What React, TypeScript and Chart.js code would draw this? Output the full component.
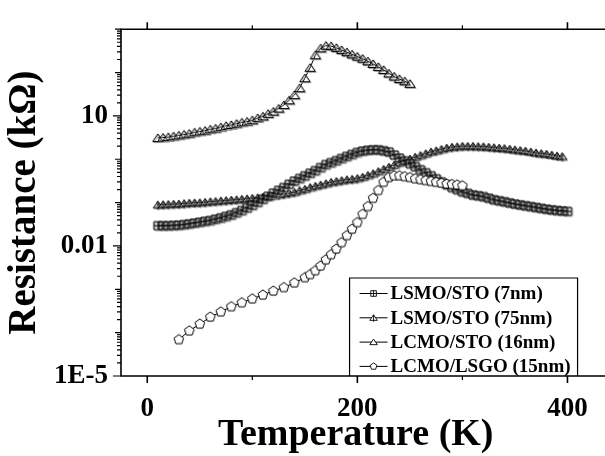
import { useEffect, useRef } from 'react';
import { Chart, registerables } from 'chart.js';

Chart.register(...registerables);

// ---------- data ----------
const T_GRID = [
  10, 15, 20, 25, 30, 35, 40, 45, 50, 55,
  60, 65, 70, 75, 80, 85, 90, 95, 100, 105,
  110, 115, 120, 125, 130, 135, 140, 145, 150, 155,
  160, 165, 170, 175, 180, 185, 190, 195, 200, 205,
  210, 215, 220, 225, 230, 235, 240, 245, 250, 255,
  260, 265, 270, 275, 280, 285, 290, 295, 300, 305,
  310, 315, 320, 325, 330, 335, 340, 345, 350, 355,
  360, 365, 370, 375, 380, 385, 390, 395, 400,
];

// LSMO/STO (7nm), T = 10..400 K
const LSMO7_R = [
  0.0295, 0.0295, 0.0295, 0.0299, 0.0302, 0.0313, 0.0324, 0.0339, 0.0355, 0.0372,
  0.0389, 0.0417, 0.0447, 0.0484, 0.0525, 0.0589, 0.0661, 0.0759, 0.0871, 0.102,
  0.120, 0.141, 0.166, 0.193, 0.224, 0.266, 0.316, 0.363, 0.417, 0.479,
  0.550, 0.646, 0.759, 0.841, 0.933, 1.05, 1.17, 1.30, 1.45, 1.55,
  1.62, 1.66, 1.66, 1.58, 1.48, 1.26, 1.07, 0.923, 0.794, 0.676,
  0.575, 0.490, 0.417, 0.355, 0.302, 0.260, 0.224, 0.200, 0.178, 0.164,
  0.151, 0.145, 0.138, 0.127, 0.117, 0.111, 0.105, 0.0989, 0.0933, 0.0891,
  0.0851, 0.0813, 0.0776, 0.0741, 0.0708, 0.0684, 0.0661, 0.0646, 0.0631,
];

// LSMO/STO (75nm), T = 10..395 K
const LSMO75_R = [
  0.0891, 0.0902, 0.0912, 0.0923, 0.0933, 0.0955, 0.0977, 0.0989, 0.100, 0.102,
  0.105, 0.107, 0.110, 0.112, 0.115, 0.117, 0.120, 0.123, 0.126, 0.130,
  0.135, 0.140, 0.145, 0.151, 0.158, 0.166, 0.174, 0.191, 0.204, 0.224,
  0.240, 0.257, 0.275, 0.295, 0.309, 0.324, 0.339, 0.347, 0.363, 0.389,
  0.427, 0.468, 0.525, 0.589, 0.661, 0.741, 0.832, 0.933, 1.02, 1.12,
  1.23, 1.35, 1.48, 1.58, 1.70, 1.82, 1.91, 1.95, 2.00, 2.00,
  2.00, 1.97, 1.95, 1.91, 1.86, 1.82, 1.78, 1.72, 1.66, 1.60,
  1.55, 1.48, 1.41, 1.36, 1.32, 1.26, 1.20, 1.16,
];

// LCMO/STO (16nm), T = 10..250 K
const LCMO16_R = [
  3.09, 3.16, 3.24, 3.39, 3.55, 3.72, 3.89, 4.17, 4.37, 4.57,
  4.90, 5.13, 5.50, 5.89, 6.17, 6.61, 7.08, 7.41, 7.94, 8.91,
  9.77, 11.2, 12.6, 14.8, 17.8, 22.9, 30.2, 43.7, 74.1, 129,
  251, 363, 417, 407, 372, 331, 295, 263, 234, 209,
  182, 158, 135, 115, 95.5, 81.3, 70.8, 63.1, 55.0,
];

// LCMO/LSGO (15nm)
const LSGO_T = [
  30, 40, 50, 60, 70, 80, 90, 100, 110, 120, 130, 140, 150,
  155, 160, 165, 170, 175, 180, 185, 190, 195, 200,
  205, 210, 215, 220, 225, 230, 235, 240, 245, 250,
  255, 260, 265, 270, 275, 280, 285, 290, 295, 300,
];
const LSGO_R = [
  6.92e-5, 1.10e-4, 1.58e-4, 2.29e-4, 3.02e-4, 3.98e-4, 4.90e-4, 6.03e-4, 7.41e-4, 9.12e-4, 1.10e-3, 1.41e-3, 1.86e-3,
  2.19e-3, 2.69e-3, 3.47e-3, 4.79e-3, 6.31e-3, 8.51e-3, 0.0120, 0.0174, 0.0245, 0.0347,
  0.0537, 0.0813, 0.126, 0.191, 0.295, 0.380, 0.417, 0.417, 0.398, 0.380,
  0.355, 0.339, 0.324, 0.309, 0.295, 0.282, 0.269, 0.263, 0.257, 0.245,
];

const SERIES_LABELS = ['LSMO/STO (7nm)', 'LSMO/STO (75nm)', 'LCMO/STO (16nm)', 'LCMO/LSGO (15nm)'];
const X_TICKS = [0, 200, 400];
const X_MINOR_TICKS = [100, 300];
const Y_TICKS = [1e-5, 0.01, 10];
const Y_TICK_LABELS = ['1E-5', '0.01', '10'];
const X_MIN = -25;
const X_MAX = 422;
const Y_MIN = 1e-5;
const Y_MAX = 1e3;
const X_TITLE = 'Temperature (K)';
const Y_TITLE = 'Resistance (kΩ)';

// ---------- styling ----------
const FONT = '"Liberation Serif", "Times New Roman", serif';
type Kind = 'sq' | 'triline' | 'tri' | 'pent';
const KINDS: Kind[] = ['sq', 'triline', 'tri', 'pent'];

function shapePath(ctx: CanvasRenderingContext2D, kind: Kind, cx: number, cy: number, s: number) {
  ctx.beginPath();
  if (kind === 'sq') {
    ctx.rect(cx - s, cy - s, 2 * s, 2 * s);
  } else if (kind === 'tri' || kind === 'triline') {
    ctx.moveTo(cx, cy - s);
    ctx.lineTo(cx + s * 1.25, cy + s * 0.85);
    ctx.lineTo(cx - s * 1.25, cy + s * 0.85);
    ctx.closePath();
  } else {
    const r = s * 1.1;
    for (let k = 0; k < 5; k++) {
      const a = -Math.PI / 2 + (k * 2 * Math.PI) / 5;
      const px = cx + r * Math.cos(a);
      const py = cy + r * Math.sin(a);
      if (k === 0) ctx.moveTo(px, py);
      else ctx.lineTo(px, py);
    }
    ctx.closePath();
  }
}

function drawMarker(ctx: CanvasRenderingContext2D, kind: Kind, cx: number, cy: number, s: number, color: string, fill: string | null, lw = 1) {
  shapePath(ctx, kind, cx, cy, s);
  if (fill) {
    ctx.fillStyle = fill;
    ctx.fill();
  }
  ctx.strokeStyle = color;
  ctx.lineWidth = lw;
  ctx.stroke();
  ctx.beginPath();
  if (kind === 'sq') {
    ctx.moveTo(cx - s, cy);
    ctx.lineTo(cx + s, cy);
    ctx.moveTo(cx, cy - s);
    ctx.lineTo(cx, cy + s);
  } else if (kind === 'triline') {
    ctx.moveTo(cx, cy - s);
    ctx.lineTo(cx, cy + s * 1.3);
  }
  ctx.stroke();
}

function makeMarkerImage(kind: Kind, s: number, shadow: boolean): HTMLCanvasElement {
  const size = 16;
  const c = document.createElement('canvas');
  c.width = size;
  c.height = size;
  const ctx = c.getContext('2d')!;
  const cx = size / 2;
  const cy = size / 2;
  if (shadow) drawMarker(ctx, kind, cx + 1, cy + 1, s, '#9a9a9a', null);
  drawMarker(ctx, kind, cx, cy, s, '#000', kind === 'pent' ? '#fff' : null);
  return c;
}

const MARKER_SIZE: Record<Kind, number> = { sq: 4, triline: 3.6, tri: 4.1, pent: 4.6 };
const LEGEND_MARKER_SIZE: Record<Kind, number> = { sq: 2.8, triline: 3, tri: 3, pent: 3.2 };

const axesPlugin = {
  id: 'axesFrame',
  afterDraw(chart: any) {
    const { ctx, chartArea, scales } = chart;
    const { left, top, bottom } = chartArea;
    const x = scales.x;
    const y = scales.y;
    ctx.save();
    ctx.strokeStyle = '#000';
    ctx.lineWidth = 1.6;
    ctx.beginPath();
    ctx.moveTo(left, top - 0.8);
    ctx.lineTo(left, bottom + 0.8);
    ctx.moveTo(left - 0.8, bottom);
    ctx.lineTo(chart.width, bottom);
    ctx.moveTo(left - 0.8, top);
    ctx.lineTo(chart.width, top);
    ctx.stroke();

    // y ticks (log decades + minors)
    ctx.lineWidth = 1.2;
    ctx.beginPath();
    const eMin = Math.round(Math.log10(Y_MIN));
    const eMax = Math.round(Math.log10(Y_MAX));
    for (let e = eMin; e <= eMax; e++) {
      const py = y.getPixelForValue(Math.pow(10, e));
      const labeled = Y_TICKS.some((v) => Math.abs(Math.log10(v) - e) < 1e-6);
      ctx.moveTo(left, py);
      ctx.lineTo(left - (labeled ? 8 : 6), py);
      if (e < eMax) {
        for (let m = 2; m <= 9; m++) {
          const p = y.getPixelForValue(m * Math.pow(10, e));
          ctx.moveTo(left, p);
          ctx.lineTo(left - 4, p);
        }
      }
    }
    ctx.stroke();

    // x ticks bottom and top
    ctx.lineWidth = 1.6;
    ctx.beginPath();
    X_TICKS.forEach((v) => {
      const px = x.getPixelForValue(v);
      ctx.moveTo(px, bottom);
      ctx.lineTo(px, bottom + 7);
      ctx.moveTo(px, top);
      ctx.lineTo(px, top - 7);
    });
    ctx.stroke();
    ctx.lineWidth = 1.2;
    ctx.beginPath();
    X_MINOR_TICKS.forEach((v) => {
      const px = x.getPixelForValue(v);
      ctx.moveTo(px, bottom);
      ctx.lineTo(px, bottom + 4);
      ctx.moveTo(px, top);
      ctx.lineTo(px, top - 4);
    });
    ctx.stroke();
    ctx.restore();
  },
};

const legendPlugin = {
  id: 'boxLegend',
  afterDraw(chart: any) {
    const { ctx, chartArea } = chart;
    const boxRight = chartArea.right - 13;
    const boxLeft = boxRight - 228;
    const boxTop = chartArea.bottom - 98;
    const boxBottom = chartArea.bottom;
    ctx.save();
    ctx.fillStyle = '#fff';
    ctx.fillRect(boxLeft, boxTop, boxRight - boxLeft, boxBottom - boxTop - 1);
    ctx.strokeStyle = '#000';
    ctx.lineWidth = 1.2;
    ctx.beginPath();
    ctx.moveTo(boxLeft, boxBottom);
    ctx.lineTo(boxLeft, boxTop);
    ctx.lineTo(boxRight, boxTop);
    ctx.lineTo(boxRight, boxBottom);
    ctx.stroke();

    ctx.font = `bold 19px ${FONT}`;
    ctx.textBaseline = 'middle';
    ctx.textAlign = 'left';
    ctx.fillStyle = '#000';
    SERIES_LABELS.forEach((label, i) => {
      const yy = boxTop + 15.5 + i * 24.3;
      const sx = boxLeft + 10;
      ctx.strokeStyle = '#000';
      ctx.lineWidth = 1;
      ctx.beginPath();
      ctx.moveTo(sx, yy);
      ctx.lineTo(sx + 28, yy);
      ctx.stroke();
      const kind = KINDS[i];
      drawMarker(ctx, kind, sx + 14, yy, LEGEND_MARKER_SIZE[kind], '#000', '#fff', 0.9);
      ctx.fillStyle = '#000';
      ctx.fillText(label, sx + 31, yy + 1);
    });
    ctx.restore();
  },
};

export default function App() {
  const ref = useRef<HTMLCanvasElement>(null);

  useEffect(() => {
    const canvas = ref.current;
    if (!canvas) return;
    const img = (k: Kind) => makeMarkerImage(k, MARKER_SIZE[k], k !== 'pent');

    const mk = (label: string, xs: number[], ys: number[], kind: Kind, order: number) => ({
      label,
      data: ys.map((v, i) => ({ x: xs[i], y: v })),
      showLine: true,
      borderColor: '#000',
      borderWidth: 1,
      tension: 0,
      pointStyle: img(kind) as any,
      pointRadius: 5,
      pointHoverRadius: 5,
      order,
    });

    const chart = new Chart(canvas, {
      type: 'scatter',
      data: {
        datasets: [
          mk(SERIES_LABELS[0], T_GRID, LSMO7_R, 'sq', 2),
          mk(SERIES_LABELS[1], T_GRID, LSMO75_R, 'triline', 3),
          mk(SERIES_LABELS[2], T_GRID, LCMO16_R, 'tri', 1),
          mk(SERIES_LABELS[3], LSGO_T, LSGO_R, 'pent', 0),
        ] as any,
      },
      options: {
        animation: false,
        responsive: false,
        devicePixelRatio: 1,
        events: [],
        layout: { padding: { top: 15, right: 1, left: 0, bottom: 0 } },
        plugins: { legend: { display: false }, tooltip: { enabled: false } },
        scales: {
          x: {
            type: 'linear',
            min: X_MIN,
            max: X_MAX,
            grid: { display: false, drawTicks: false, tickLength: 0 },
            border: { display: false },
            ticks: {
              autoSkip: false,
              maxRotation: 0,
              padding: 17,
              color: '#000',
              font: { family: FONT, size: 27, weight: 'bold', lineHeight: 1.2 },
              callback: (v: any) => String(v),
            },
            afterBuildTicks: (s: any) => {
              s.ticks = X_TICKS.map((v) => ({ value: v }));
            },
            afterFit: (s: any) => {
              s.height = 80;
            },
            title: {
              display: true,
              text: X_TITLE,
              color: '#000',
              font: { family: FONT, size: 38, weight: 'bold', lineHeight: 1 },
              padding: { top: 0, bottom: 2 },
            },
          },
          y: {
            type: 'logarithmic',
            min: Y_MIN,
            max: Y_MAX,
            grid: { display: false, drawTicks: false, tickLength: 0 },
            border: { display: false },
            ticks: {
              autoSkip: false,
              padding: 13,
              color: '#000',
              font: { family: FONT, size: 27, weight: 'bold', lineHeight: 1.2 },
              callback: (_v: any, i: number) => Y_TICK_LABELS[i],
            },
            afterBuildTicks: (s: any) => {
              s.ticks = Y_TICKS.map((v) => ({ value: v }));
            },
            afterFit: (s: any) => {
              s.width = 121;
            },
            title: {
              display: true,
              text: Y_TITLE,
              color: '#000',
              font: { family: FONT, size: 39, weight: 'bold', lineHeight: 1 },
              padding: { top: 5, bottom: 0 },
            },
          },
        },
      } as any,
      plugins: [axesPlugin, legendPlugin],
    });
    return () => chart.destroy();
  }, []);

  return (
    <div style={{ position: 'fixed', left: 0, top: 0, width: 605, height: 456, background: '#fff' }}>
      <canvas ref={ref} width={605} height={456} style={{ display: 'block', width: 605, height: 456 }} />
    </div>
  );
}
